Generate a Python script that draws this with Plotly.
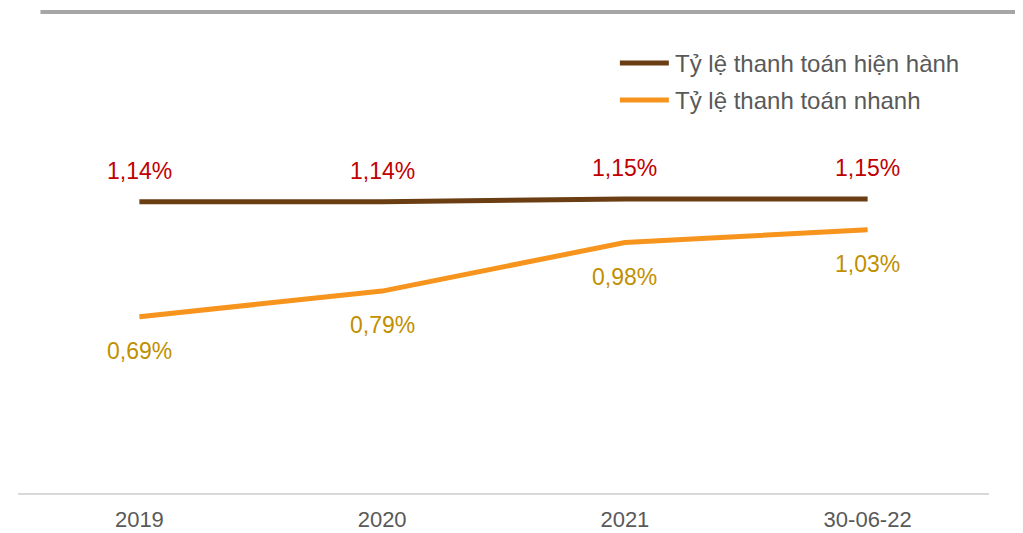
import plotly.graph_objects as go

categories = ["2019", "2020", "2021", "30-06-22"]
current_ratio = [1.14, 1.14, 1.15, 1.15]
quick_ratio = [0.69, 0.79, 0.98, 1.03]
series_names = ["Tỷ lệ thanh toán hiện hành", "Tỷ lệ thanh toán nhanh"]

BROWN = "#6B3D12"
ORANGE = "#F7941D"
RED = "#C00000"
GOLD = "#BF9000"
GREY_TXT = "#595959"
FONT = "Liberation Sans, Arial, sans-serif"

# page has an 8px body margin; work in page pixel coordinates and convert
OFF = 8
W, H = 1023 - OFF, 533 - OFF
PL, PR, PT, PB = 17.5, 989.5, 12, 493  # plot area in page pixels
ML, MR, MT, MB = PL - OFF, W - (PR - OFF), PT - OFF, H - (PB - OFF)

fig = go.Figure()
fig.add_trace(go.Scatter(x=categories, y=current_ratio, mode="lines",
                         line=dict(color=BROWN, width=5), name=series_names[0],
                         showlegend=False))
fig.add_trace(go.Scatter(x=categories, y=quick_ratio, mode="lines",
                         line=dict(color=ORANGE, width=5), name=series_names[1],
                         showlegend=False))

def fmt(v):
    return f"{v:.2f}".replace(".", ",") + "%"

annotations = []
for i, v in enumerate(current_ratio):
    annotations.append(dict(x=i, y=v, text=fmt(v), showarrow=False, yshift=31,
                            font=dict(color=RED, size=23, family=FONT)))
for i, v in enumerate(quick_ratio):
    annotations.append(dict(x=i, y=v, text=fmt(v), showarrow=False, yshift=-34,
                            font=dict(color=GOLD, size=23, family=FONT)))

pw = PR - PL
ph = PB - PT
def px(x):
    return (x - PL) / pw
def py(y):
    return 1 - (y - PT) / ph

# manual legend
legend_rows = [(63, BROWN, series_names[0]), (100, ORANGE, series_names[1])]
shapes = []
for y, col, name in legend_rows:
    shapes.append(dict(type="line", xref="paper", yref="paper",
                       x0=px(620), x1=px(669), y0=py(y), y1=py(y),
                       line=dict(color=col, width=5)))
    annotations.append(dict(xref="paper", yref="paper", x=px(673), y=py(y),
                            text=name, showarrow=False, xanchor="left", yanchor="middle",
                            font=dict(color=GREY_TXT, size=24, family=FONT)))

# top decorative grey bar
shapes.append(dict(type="line", xref="paper", yref="paper",
                   x0=px(40), x1=px(1023), y0=py(12), y1=py(12),
                   line=dict(color="#A6A6A6", width=4)))

fig.update_layout(
    width=W, height=H,
    margin=dict(l=ML, r=MR, t=MT, b=MB, pad=0, autoexpand=False),
    paper_bgcolor="white", plot_bgcolor="white",
    showlegend=False,
    annotations=annotations,
    shapes=shapes,
    font=dict(family=FONT, color=GREY_TXT, size=20),
)
fig.update_xaxes(type="category", range=[-0.5, 3.5], showgrid=False,
                 showline=True, linecolor="#D9D9D9", linewidth=2,
                 ticks="", tickfont=dict(size=22, color=GREY_TXT, family=FONT),
                 ticklabelstandoff=6, zeroline=False, automargin=False)
fig.update_yaxes(range=[0, 1.882], showgrid=False, showticklabels=False,
                 zeroline=False, showline=False, automargin=False)

fig.write_html("out.html")
